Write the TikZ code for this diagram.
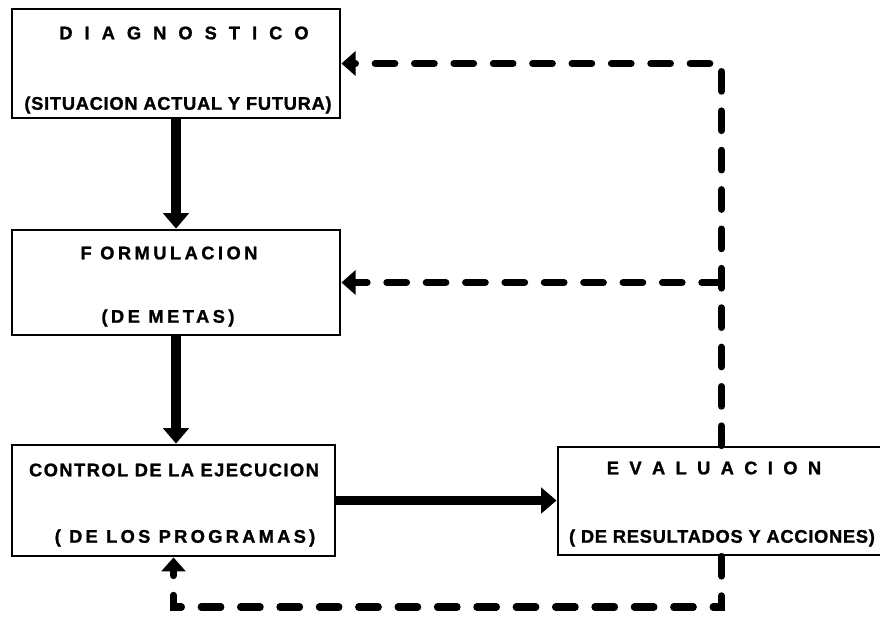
\documentclass[tikz,border=0pt]{standalone}
\usepackage{fontspec}
\setmainfont{Liberation Sans}
\usetikzlibrary{positioning,arrows.meta}

\begin{document}
\begin{tikzpicture}[x=0.025cm,y=-0.025cm]
\tikzstyle{box}=[draw,rectangle,line width=2pt,inner sep=0pt]
\tikzstyle{txt}=[inner sep=0pt,font=\fontsize{13}{15}\selectfont\bfseries\addfontfeature{FakeBold=1.2,LetterSpace=#1}]
\tikzstyle{flow}=[line width=6.5pt,-{Triangle[length=11pt,width=18pt]}]
\tikzstyle{back}=[line width=5pt,line cap=round,dash pattern=on 14pt off 14pt,-{Triangle[length=10pt,width=17pt]}]
    \useasboundingbox (0,0) rectangle (880,619);
    \node[box,minimum width=8.2cm,minimum height=2.725cm] (diag) at (176,63.5) {};
    \node[box,minimum width=8.2cm,minimum height=2.625cm] (form) at (176,282.5) {};
    \node[box,minimum width=8.075cm,minimum height=2.775cm] (ctrl) at (173.5,500.5) {};
    \node[box,minimum width=8.175cm,minimum height=2.7cm] (eval) at (721.5,501) {};
    \node[txt=38] (diag1) at (184,33) {D I A G N O S T I C O};
    \node[txt=4] (diag2) at (178,105) {(SITUACION ACTUAL Y FUTURA)};
    \node[txt=19] (form1) at (169,253) {F ORMULACION};
    \node[txt=19] (form2) at (168,318) {(DE METAS)};
    \node[txt=8] (ctrl1) at (174,470) {CONTROL DE LA EJECUCION};
    \node[txt=18] (ctrl2) at (185,538) {( DE LOS PROGRAMAS)};
    \node[txt=29] (eval1) at (714,468) {E V A L U A C I O N};
    \node[txt=4] (eval2) at (722,538) {( DE RESULTADOS Y ACCIONES)};
    \coordinate (mid) at (eval.north |- form.east);
    \coordinate (low) at (0,607);
    \draw[flow] (diag.south) to (form.north);
    \draw[flow] (form.south) to (form.south |- ctrl.north);
    \draw[flow] (ctrl.east) to (ctrl.east -| eval.west);
    \draw[back] (eval.north) |- (diag.east);
    \draw[back] (mid) to (form.east);
    \draw[back] (eval.south) -- (eval.south |- low) -| (ctrl.south);
  \end{tikzpicture}
\end{document}
